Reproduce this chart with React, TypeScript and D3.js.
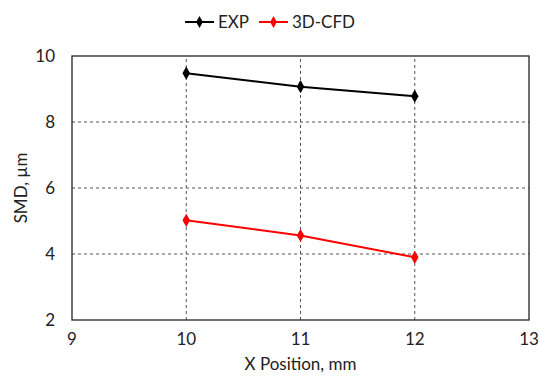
import React from "react";
import * as d3 from "d3";

const xPositions = [10, 11, 12];
const expValues = [9.48, 9.07, 8.78];
const cfdValues = [5.02, 4.56, 3.9];
const xTicks = [9, 10, 11, 12, 13];
const yTicks = [2, 4, 6, 8, 10];

const series = [
  { name: "EXP", color: "#000000", values: expValues },
  { name: "3D-CFD", color: "#ff0000", values: cfdValues },
];

export default function App() {
  const W = 539, H = 381;
  const m = { left: 72, right: 10, top: 56, bottom: 61 };
  const x = d3.scaleLinear().domain([9, 13]).range([m.left, W - m.right]);
  const y = d3.scaleLinear().domain([2, 10]).range([H - m.bottom, m.top]);
  const line = d3.line<number>().x((_, i) => x(xPositions[i])).y((d) => y(d));
  const diamond = d3.symbol().type(d3.symbolDiamond).size(50)() as string;
  const diamondSmall = d3.symbol().type(d3.symbolDiamond).size(40)() as string;
  const font = "Lato, sans-serif";
  const fs = 17;
  const legendItems = [
    { x0: 185, tx: 218 },
    { x0: 259, tx: 292 },
  ];
  return (
    <svg width={W} height={H} style={{ position: "absolute", left: 0, top: 0 }} fontFamily={font}>
      <rect width={W} height={H} fill="#fff" />
      {yTicks.slice(1, -1).map((t) => (
        <line key={"gy" + t} x1={x(9)} x2={x(13)} y1={y(t)} y2={y(t)} stroke="#555" strokeWidth={1} strokeDasharray="3,3" />
      ))}
      {xTicks.slice(1, -1).map((t) => (
        <line key={"gx" + t} x1={x(t)} x2={x(t)} y1={y(2)} y2={y(10)} stroke="#555" strokeWidth={1} strokeDasharray="3,3" />
      ))}
      <rect x={x(9)} y={y(10)} width={x(13) - x(9)} height={y(2) - y(10)} fill="none" stroke="#222" strokeWidth={1.3} />
      {yTicks.map((t) => (
        <text key={"yt" + t} x={x(9) - 17} y={y(t)} dy="0.35em" textAnchor="end" fontSize={fs} fill="#222">{t}</text>
      ))}
      {xTicks.map((t) => (
        <text key={"xt" + t} x={x(t)} y={y(2) + 25} textAnchor="middle" fontSize={fs} fill="#222">{t}</text>
      ))}
      <text x={x(11)} y={H - 11} textAnchor="middle" fontSize={fs} fill="#222">X Position, mm</text>
      <text transform={`translate(27,${y(6)}) rotate(-90)`} textAnchor="middle" fontSize={fs} fill="#222">SMD, µm</text>
      {series.map((s) => (
        <g key={s.name}>
          <path d={line(s.values) || ""} fill="none" stroke={s.color} strokeWidth={2} />
          {s.values.map((v, i) => (
            <path key={i} d={diamond} transform={`translate(${x(xPositions[i])},${y(v)})`} fill={s.color} />
          ))}
        </g>
      ))}
      {series.map((s, i) => (
        <g key={"lg" + s.name}>
          <line x1={legendItems[i].x0} x2={legendItems[i].x0 + 29} y1={22} y2={22} stroke={s.color} strokeWidth={2} />
          <path d={diamondSmall} transform={`translate(${legendItems[i].x0 + 14.5},22)`} fill={s.color} />
          <text x={legendItems[i].tx} y={22} dy="0.35em" fontSize={fs} fill="#222">{s.name}</text>
        </g>
      ))}
    </svg>
  );
}
